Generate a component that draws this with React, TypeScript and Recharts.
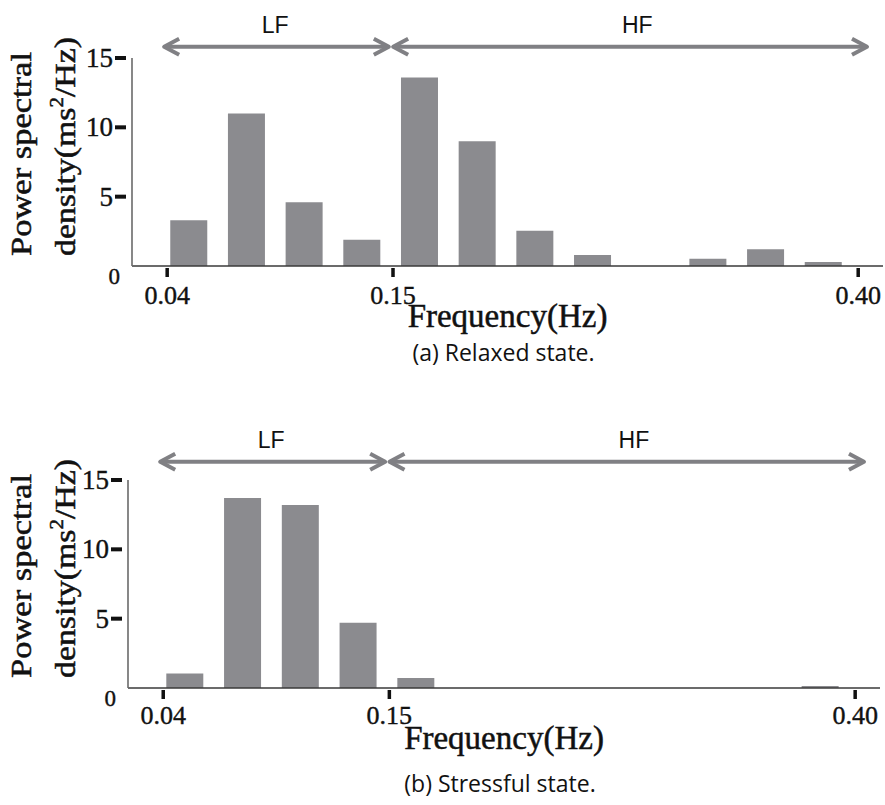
import React from 'react'
import { BarChart, Bar, XAxis, YAxis, ReferenceLine } from 'recharts'

// frequency bins (schematic slots along the axis)
const bins = [0, 1, 2, 3, 4, 5, 6, 7, 8, 9, 10, 11]
const relaxedPsd = [3.3, 11.0, 4.6, 1.9, 13.6, 9.0, 2.55, 0.8, 0, 0.53, 1.2, 0.29]
const stressfulPsd = [1.05, 13.7, 13.2, 4.7, 0.72, 0, 0, 0, 0, 0, 0, 0.15]

const yTicks = [0, 5, 10, 15]
const freqTickPos = [-0.38, 3.535, 11.6]
const freqTickLabels = ['0.04', '0.15', '0.40']

const bandNames = ['LF', 'HF']
const bandStart = [-0.45, 3.52]
const bandEnd = [3.48, 11.77]
const bandLabelPos = [1.49, 7.77]

const SERIF = '"Liberation Serif", "Times New Roman", Times, serif'
const SANS = '"Liberation Sans", Arial, sans-serif'
const BAR = '#8b8b8f'
const ARROW = '#808084'
const INK = '#111'

const XTick = ({ x, y, payload, dy }: any) => {
  const i = freqTickPos.indexOf(payload.value)
  return (
    <g>
      <rect x={x - 1.75} y={y + 2} width={3.5} height={9} fill={INK} />
      <text x={x} y={y + dy} textAnchor="middle" fontFamily={SERIF} fontSize={26} fill={INK} stroke={INK} strokeWidth={0.4}>
        {freqTickLabels[i] ?? payload.value}
      </text>
    </g>
  )
}

const YTick = ({ x, y, payload }: any) => {
  if (payload.value === 0) {
    return (
      <text x={x - 12} y={y + 18} textAnchor="end" fontFamily={SERIF} fontSize={23} fill={INK} stroke={INK} strokeWidth={0.4}>
        0
      </text>
    )
  }
  return (
    <g>
      <rect x={x - 17} y={y - 2} width={11} height={4} fill={INK} />
      <text x={x - 19} y={y + 9} textAnchor="end" fontFamily={SERIF} fontSize={27} fill={INK} stroke={INK} strokeWidth={0.4}>
        {payload.value}
      </text>
    </g>
  )
}

const arrowShape = (name: string, start: number, end: number, labelAt: number) => (p: any) => {
  const { x1, x2, y1 } = p
  const y = y1
  const lx = x1 + ((x2 - x1) * (labelAt - start)) / (end - start)
  const hl = 16
  const hw = 8
  return (
    <g>
      <line x1={x1 + 2} y1={y} x2={x2 - 2} y2={y} stroke={ARROW} strokeWidth={4} />
      <polyline
        points={`${x1 + hl},${y - hw} ${x1 + 1},${y} ${x1 + hl},${y + hw}`}
        fill="none"
        stroke={ARROW}
        strokeWidth={4}
        strokeLinejoin="round"
      />
      <polyline
        points={`${x2 - hl},${y - hw} ${x2 - 1},${y} ${x2 - hl},${y + hw}`}
        fill="none"
        stroke={ARROW}
        strokeWidth={4}
        strokeLinejoin="round"
      />
      <text x={lx} y={y - 14} textAnchor="middle" fontFamily={SANS} fontSize={23} fill={INK}>
        {name}
      </text>
    </g>
  )
}

interface PanelProps {
  values: number[]
  caption: string
  height: number
  plotLeft: number
  plotRight: number
  arrowLevel: number
  tickDy: number
  captionDy: number
}

function PsdPanel({ values, caption, height, plotLeft, plotRight, arrowLevel, tickDy, captionDy }: PanelProps) {
  const data = bins.map((b, i) => ({ bin: b, psd: values[i] }))
  const plotH = 208
  const xAxisH = 80

  const xLabel = ({ viewBox }: any) => {
    const cx = viewBox.x + viewBox.width / 2
    return (
      <g>
        <text x={cx} y={viewBox.y + 61} textAnchor="middle" fontFamily={SERIF} fontSize={33} fill={INK} stroke={INK} strokeWidth={0.5}>
          Frequency(Hz)
        </text>
        <text x={cx - 4} y={viewBox.y + captionDy} textAnchor="middle" fontFamily='"Open Sans", sans-serif' fontSize={23} fill={INK}>
          {caption}
        </text>
      </g>
    )
  }

  const yLabel = ({ viewBox }: any) => {
    const base = viewBox.y + viewBox.height - 10
    return (
      <g fontFamily={SERIF} fill={INK} stroke={INK} strokeWidth={0.5}>
        <text transform={`translate(31, ${base}) rotate(-90)`} fontSize={29} textLength={204} lengthAdjust="spacingAndGlyphs">
          Power spectral
        </text>
        <text transform={`translate(75, ${base}) rotate(-90)`} fontSize={29} textLength={219} lengthAdjust="spacingAndGlyphs">
          density(ms<tspan fontSize={18} dy={-12}>2</tspan>
          <tspan dy={12}>/Hz)</tspan>
        </text>
      </g>
    )
  }

  return (
    <BarChart
      width={885}
      height={height}
      data={data}
      margin={{ top: 58, right: 885 - plotRight, left: 0, bottom: height - 58 - plotH - xAxisH }}
    >
      <XAxis
        type="number"
        dataKey="bin"
        domain={[-0.99, 12.03]}
        allowDataOverflow
        ticks={freqTickPos}
        interval={0}
        height={xAxisH}
        tickSize={0}
        tickMargin={0}
        tickLine={false}
        axisLine={{ stroke: '#3a3a3a', strokeWidth: 1.6 }}
        tick={(p: any) => <XTick {...p} dy={tickDy} />}
        label={{ content: xLabel }}
      />
      <YAxis
        type="number"
        domain={[0, 15]}
        ticks={yTicks}
        interval={0}
        width={plotLeft}
        tickSize={0}
        tickMargin={0}
        tickLine={false}
        axisLine={{ stroke: '#6a6a6a', strokeWidth: 1.6 }}
        tick={(p: any) => <YTick {...p} />}
        label={{ content: yLabel }}
      />
      {bandNames.map((name, i) => (
        <ReferenceLine
          key={name}
          segment={[
            { x: bandStart[i], y: arrowLevel },
            { x: bandEnd[i], y: arrowLevel },
          ]}
          ifOverflow="visible"
          shape={arrowShape(name, bandStart[i], bandEnd[i], bandLabelPos[i])}
        />
      ))}
      <Bar dataKey="psd" fill={BAR} barSize={37} isAnimationActive={false} />
    </BarChart>
  )
}

export default function App() {
  return (
    <div style={{ position: 'absolute', left: 0, top: 0, width: 885, height: 805, background: '#fff' }}>
      <PsdPanel
        values={relaxedPsd}
        caption="(a) Relaxed state."
        height={422}
        plotLeft={132}
        plotRight={883}
        arrowLevel={15.81}
        tickDy={38}
        captionDy={95}
      />
      <PsdPanel
        values={stressfulPsd}
        caption="(b) Stressful state."
        height={383}
        plotLeft={128}
        plotRight={880}
        arrowLevel={16.32}
        tickDy={36}
        captionDy={104}
      />
    </div>
  )
}
